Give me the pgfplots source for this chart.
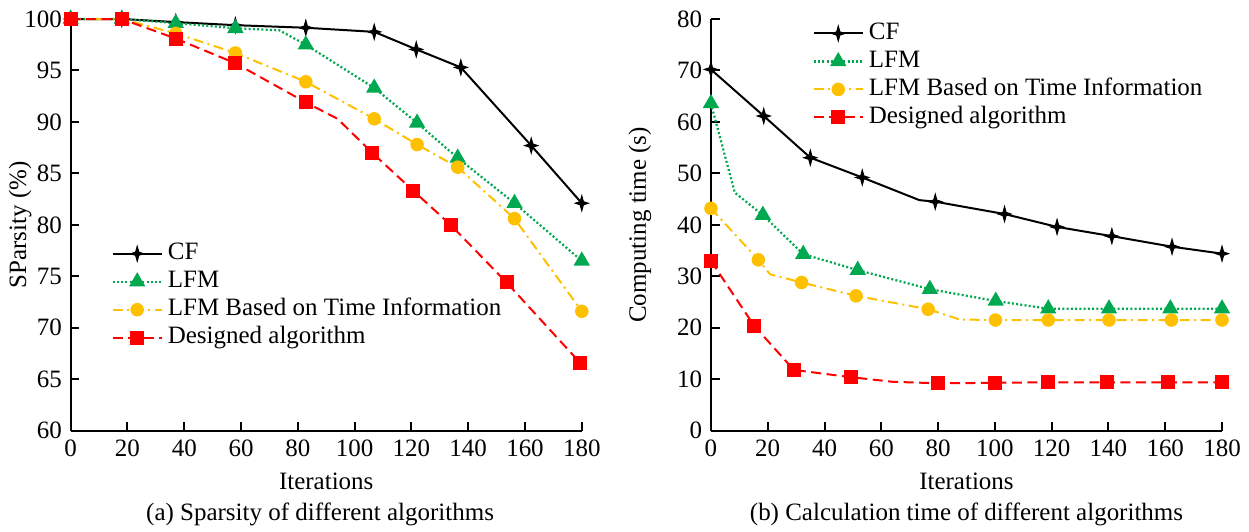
\documentclass[border=0pt]{standalone}
\usepackage{fontspec}
\setmainfont{Liberation Serif}
\usepackage{pgfplots}
\pgfplotsset{compat=1.18}

\definecolor{lfmgreen}{RGB}{0,168,80}
\definecolor{timeyellow}{RGB}{255,192,0}
\definecolor{desred}{RGB}{255,0,0}

% four-pointed star used for CF
\pgfdeclareplotmark{sparkle}{%
  \pgfpathmoveto{\pgfqpoint{0pt}{1.15\pgfplotmarksize}}%
  \pgfpathlineto{\pgfqpoint{0.25\pgfplotmarksize}{0.25\pgfplotmarksize}}%
  \pgfpathlineto{\pgfqpoint{\pgfplotmarksize}{0pt}}%
  \pgfpathlineto{\pgfqpoint{0.25\pgfplotmarksize}{-0.25\pgfplotmarksize}}%
  \pgfpathlineto{\pgfqpoint{0pt}{-1.15\pgfplotmarksize}}%
  \pgfpathlineto{\pgfqpoint{-0.25\pgfplotmarksize}{-0.25\pgfplotmarksize}}%
  \pgfpathlineto{\pgfqpoint{-\pgfplotmarksize}{0pt}}%
  \pgfpathlineto{\pgfqpoint{-0.25\pgfplotmarksize}{0.25\pgfplotmarksize}}%
  \pgfpathclose
  \pgfusepathqfillstroke}

\pgfplotsset{
  myaxis/.style={
    scale only axis, width=204.6pt, height=164.8pt,
    axis x line*=bottom, axis y line*=left,
    tick align=inside, major tick length=3.5pt,
    xmin=0, xmax=180, xtick={0,20,...,180},
    /pgf/number format/assume math mode=true,
    tick label style={font=\fontsize{10}{12}\selectfont},
    label style={font=\fontsize{10}{12}\selectfont},
    axis line style={line width=0.8pt},
    tick style={black, line width=0.8pt},
    clip=false,
    legend cell align=left,
    legend style={draw=none, fill=none, inner sep=0pt, row sep=0pt,
      font=\fontsize{10}{12}\selectfont,
      nodes={inner xsep=2pt, inner ysep=0pt, text height=8pt, text depth=3.2pt}},
    legend image code/.code={\draw[mark indices={2}]
      plot coordinates {(0cm,0cm)(0.345cm,0cm)(0.69cm,0cm)};},
    xlabel={Iterations},
    xlabel style={at={(axis description cs:0.5,-0.124)}, anchor=center},
  },
  cf/.style={black, line width=0.8pt, mark=sparkle, mark size=2.6pt,
    mark options={solid, fill=black, line width=0.4pt}},
  lfm/.style={lfmgreen, line width=0.9pt, dash pattern=on 0.8pt off 0.9pt,
    mark=triangle*, mark size=2.9pt, mark options={solid, fill=lfmgreen}},
  lfmt/.style={timeyellow, line width=0.8pt,
    dash pattern=on 4pt off 1.8pt on 0.8pt off 1.8pt,
    mark=*, mark size=2.3pt, mark options={solid, fill=timeyellow}},
  des/.style={desred, line width=0.8pt, dash pattern=on 4pt off 2.2pt,
    mark=square*, mark size=2.4pt, mark options={solid, fill=desred}},
}

\begin{document}
\begin{tikzpicture}
\path[use as bounding box] (0,0) rectangle (500pt,212.6pt);

\begin{axis}[myaxis,
  at={(28.3pt,40.2pt)}, anchor=south west,
  ymin=60, ymax=100, ytick={60,65,...,100},
  ylabel={SParsity (\%)},
  ylabel style={at={(axis description cs:-0.099,0.5)}, anchor=center},
  legend style={at={(axis description cs:0.079,0.465)}, anchor=north west},
]
\addplot[cf] coordinates {(0,100) (18,100) (37,99.7) (58,99.4) (82.8,99.15)
  (106.9,98.75) (121.7,97.05) (137.4,95.3) (162.2,87.7) (180,82.1)};
\addlegendentry{CF}
\addplot[lfm, mark indices={1,2,3,4,6,7,8,9,10,11}] coordinates {(0,100) (18,100)
  (37,99.6) (58,99.1) (73.5,98.9) (82.8,97.5) (106.9,93.3) (122,89.9)
  (136.3,86.5) (156.3,82.1) (180,76.5)};
\addlegendentry{LFM}
\addplot[lfmt] coordinates {(0,100) (18,100) (37,98.6) (58,96.7) (82.8,93.9)
  (106.9,90.3) (122,87.8) (136.3,85.6) (156.3,80.6) (180,71.6)};
\addlegendentry{LFM Based on Time Information}
\addplot[des, mark indices={1,2,3,4,5,7,8,9,10,11}] coordinates {(0,100) (18,100)
  (37,98.1) (58,95.7) (82.8,91.9) (94,90.3) (106.2,87.0) (120.7,83.3)
  (133.8,80.0) (153.5,74.4) (179.4,66.6)};
\addlegendentry{Designed algorithm}
\node[font=\fontsize{10}{12}\selectfont] at (axis description cs:0.488,-0.2045)
  {(a) Sparsity of different algorithms};
\end{axis}

\begin{axis}[myaxis,
  at={(284.6pt,40.2pt)}, anchor=south west,
  ymin=0, ymax=80, ytick={0,10,...,80},
  ylabel={Computing time (s)},
  ylabel style={at={(axis description cs:-0.139,0.5)}, anchor=center},
  legend style={at={(axis description cs:0.198,1.0)}, anchor=north west},
]
\addplot[cf, mark indices={1,2,3,4,6,7,8,9,10,11}] coordinates {(0,70.2)
  (18.6,61.15) (35,53.05) (53.3,49.2) (73.4,44.8) (79,44.5) (103.4,42.1)
  (121.9,39.6) (141.2,37.8) (162.4,35.75) (180,34.4)};
\addlegendentry{CF}
\addplot[lfm, mark indices={1,3,4,5,6,7,8,9,10,11}] coordinates {(0,63.6)
  (8.4,46.25) (18.3,41.9) (32.5,34.3) (51.7,31.2) (77.1,27.5) (100.3,25.2)
  (118.8,23.7) (140.2,23.7) (161.8,23.7) (180,23.7)};
\addlegendentry{LFM}
\addplot[lfmt, mark indices={1,2,4,5,6,8,9,10,11,12}] coordinates {(0,43.2)
  (16.7,33.2) (20.8,30.4) (31.9,28.8) (51.1,26.2) (76.5,23.6) (87.6,21.6)
  (100.2,21.5) (118.8,21.5) (140.2,21.5) (162.2,21.5) (180,21.5)};
\addlegendentry{LFM Based on Time Information}
\addplot[des, mark indices={1,2,3,4,6,7,8,9,10,11}] coordinates {(0,33.0)
  (15.2,20.4) (29.2,11.8) (49.2,10.4) (64,9.5) (79.9,9.2) (100,9.3)
  (118.8,9.4) (139.6,9.4) (161,9.4) (180,9.4)};
\addlegendentry{Designed algorithm}
\node[font=\fontsize{10}{12}\selectfont] at (axis description cs:0.5,-0.2045)
  {(b) Calculation time of different algorithms};
\end{axis}
\end{tikzpicture}
\end{document}
